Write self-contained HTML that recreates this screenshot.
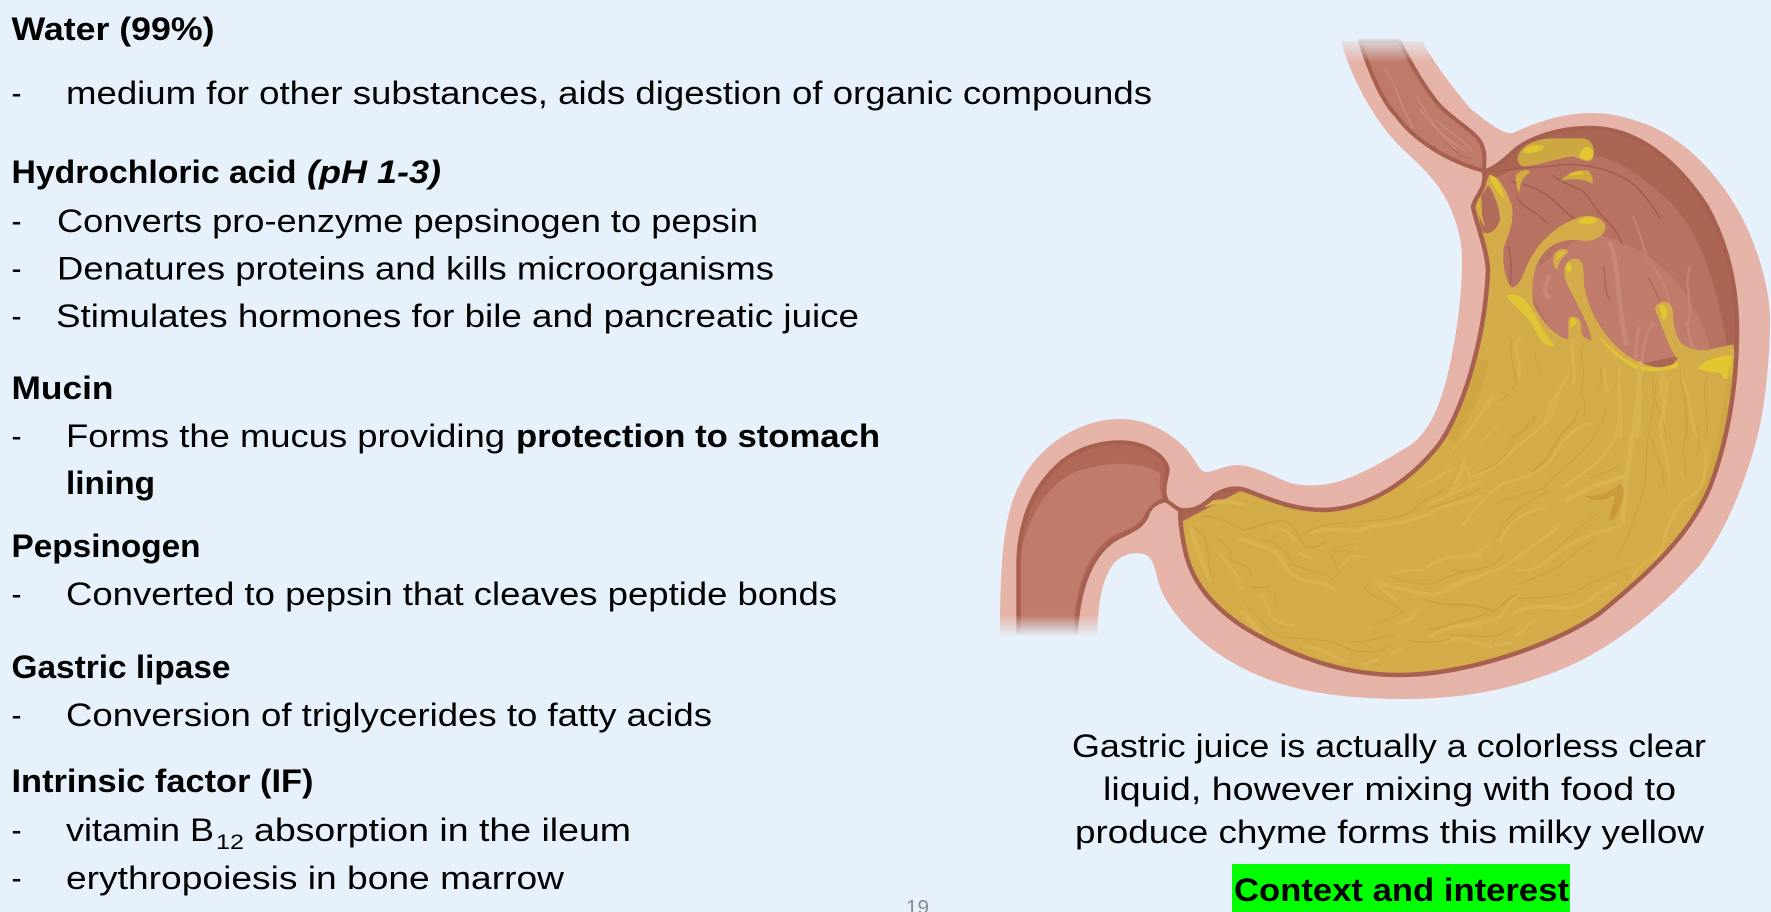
<!DOCTYPE html>
<html lang="en">
<head>
<meta charset="utf-8">
<title>Gastric juice components</title>
<style>
html,body{margin:0;padding:0;background:#e6f1fc;width:1771px;height:912px;overflow:hidden}
svg{display:block}
text{font-family:"Liberation Sans",Arial,sans-serif;font-size:32px;fill:#000}
.b{font-weight:700}
.i{font-weight:700;font-style:italic}
.L{fill:none;stroke:#d9b34f;stroke-width:9;stroke-linecap:round;stroke-linejoin:round}
.D{fill:none;stroke:#cba03f;stroke-width:3.500;stroke-linecap:round;stroke-linejoin:round}
.R{fill:none;stroke:#a25d4c;stroke-width:4.500;stroke-linecap:round;stroke-linejoin:round}
</style>
</head>
<body>
<svg width="1771" height="912" viewBox="0 0 1771 912" xmlns="http://www.w3.org/2000/svg">
<defs>
<linearGradient id="fadeTop" x1="0" y1="0" x2="0" y2="1"><stop offset="0" stop-color="#e6f1fc" stop-opacity=".95"/><stop offset="1" stop-color="#e6f1fc" stop-opacity="0"/></linearGradient>
<linearGradient id="fadeBot" x1="0" y1="0" x2="0" y2="1"><stop offset="0" stop-color="#e6f1fc" stop-opacity="0"/><stop offset=".72" stop-color="#e6f1fc"/><stop offset="1" stop-color="#e6f1fc"/></linearGradient>
<clipPath id="ch"><path d="M1484 172C1490 170 1500 165 1513 152C1530 137 1560 128 1590 128C1640 128 1680 165 1707 207C1725 240 1737 280 1737 330C1737 385 1728 440 1710 487C1690 535 1650 572 1600 613C1560 642 1470 675 1400 675C1340 675 1290 655 1245 628C1210 605 1190 580 1184 545C1181 530 1180 520 1180 510C1195 512 1205 505 1215 495C1225 489 1235 487 1245 490C1265 497 1290 510 1325 510C1370 508 1408 482 1437 447C1462 415 1485 340 1488 270C1487 250 1477 225 1473 207C1475 195 1487 190 1484 172Z"/></clipPath>
</defs>
<rect width="1771" height="912" fill="#e6f1fc"/>

<!-- outer wall -->
<path fill="#e5b3a8" d="M1341 41C1350 75 1375 125 1407 153C1425 170 1440 185 1449 205C1458 225 1462 240 1462 262C1462 300 1455 345 1447 377C1440 405 1430 430 1412 444C1385 461 1360 475 1340 481C1320 487 1300 487 1285 481C1265 472 1250 465 1237 465C1225 465 1215 472 1206 472C1198 472 1195 455 1180 443C1165 430 1145 419 1120 419C1080 419 1040 445 1022 480C1005 510 1000 550 1000 637L1097 637C1098 610 1100 580 1115 562C1125 552 1143 550 1150 558C1158 570 1155 580 1165 598C1190 640 1230 665 1270 680C1310 695 1360 699 1404 699C1460 699 1510 690 1560 670C1610 650 1660 610 1700 565C1730 525 1750 470 1760 425C1767 390 1770 350 1770 320C1770 285 1755 240 1738 210C1715 170 1680 135 1640 122C1620 115 1605 113 1590 113C1560 113 1530 125 1513 133C1505 135 1490 125 1470 108C1455 90 1435 65 1422 41Z"/>

<!-- esophagus -->
<g transform="translate(1340 36) scale(.33333)">
<path fill="#bf7a69" stroke="#a7604f" stroke-width="12" stroke-linejoin="round" d="M60 15C80 80 120 190 170 240C220 310 320 375 433 405C430 375 440 365 425 325C410 290 350 260 300 210C260 165 210 80 178 15Z"/>
<g fill="none" stroke="#cc8d7c" stroke-width="4" stroke-linecap="round">
<path d="M135 100C170 150 190 230 220 275"/><path d="M230 180C260 240 300 290 345 340"/><path d="M240 220C290 290 340 320 375 345"/><path d="M290 255C330 290 370 310 395 345"/>
</g>
<g fill="none" stroke="#ad6755" stroke-width="3" stroke-linecap="round"><path d="M280 330C295 335 295 355 310 358"/><path d="M320 320C350 350 370 370 395 365"/></g>
</g>

<!-- duodenal side -->
<g transform="translate(990 410) scale(.33333)">
<path fill="#b06957" stroke="#a7604f" stroke-width="12" stroke-linejoin="round" d="M85 680L85 450C90 330 130 230 210 160C270 110 340 95 400 97C470 100 530 140 533 180C530 210 515 240 530 270C505 275 480 285 470 320C455 350 430 360 400 375C330 405 265 490 258 680Z"/>
<path fill="#c07b6a" d="M93 680L93 430C110 330 170 220 260 185C340 155 450 150 512 192C508 210 508 240 518 266C490 272 470 300 460 320C445 345 420 355 395 365C320 395 255 480 250 680Z"/>
<path fill="none" stroke="#a7604f" stroke-width="12" stroke-linecap="round" d="M525 270C545 280 555 295 572 300"/>
</g>

<!-- chamber -->
<path fill="#ab6553" d="M1484 172C1490 170 1500 165 1513 152C1530 137 1560 128 1590 128C1640 128 1680 165 1707 207C1725 240 1737 280 1737 330C1737 385 1728 440 1710 487C1690 535 1650 572 1600 613C1560 642 1470 675 1400 675C1340 675 1290 655 1245 628C1210 605 1190 580 1184 545C1181 530 1180 520 1180 510C1195 512 1205 505 1215 495C1225 489 1235 487 1245 490C1265 497 1290 510 1325 510C1370 508 1408 482 1437 447C1462 415 1485 340 1488 270C1487 250 1477 225 1473 207C1475 195 1487 190 1484 172Z"/>
<g clip-path="url(#ch)">
<g transform="translate(1440 110) scale(.33333)">
<path fill="#b87261" d="M140 220C200 170 400 130 480 140C560 160 650 230 720 310C790 400 840 560 862 720L150 800Z"/>
<path fill="#c07b6a" d="M440 370C560 385 650 440 720 530C770 600 800 660 810 720L400 800L250 500Z"/>
<!-- rugae -->
<path class="R" d="M175 185C230 170 300 175 360 165C420 160 500 170 570 215C600 235 640 290 660 325"/>
<path class="R" d="M215 215C260 225 300 235 340 270C370 300 390 320 405 325"/>
<path class="R" d="M335 195C380 230 430 230 450 270C480 320 530 350 545 400"/>
<path class="R" d="M230 260C250 300 290 300 320 340"/>
<path class="R" d="M205 410C215 450 215 480 210 525"/>
<path class="R" d="M490 470C500 510 490 540 510 570" stroke-opacity=".7"/>
<path class="R" d="M625 505C640 530 650 550 660 570" stroke-opacity=".6"/>
<g fill="none" stroke="#c98777" stroke-linecap="round">
<path stroke-width="14" d="M510 400C540 470 530 580 560 700"/>
<path stroke-width="14" d="M328 500C312 530 312 555 328 560"/>
<path stroke-width="8" d="M600 650C585 690 590 720 585 750"/>
<path stroke-width="8" d="M640 640C610 680 610 720 605 760"/>
<path stroke-width="8" d="M740 640C750 680 750 710 770 720"/>
<path stroke-width="5" d="M750 470C730 520 760 570 745 640"/>
<path stroke-width="5" d="M580 320C600 370 610 400 620 440"/>
<path stroke-width="5" d="M640 470C670 510 690 560 690 600"/>
</g>
<!-- chyme -->
<path fill="#d3ab49" d="M148 195C175 195 200 240 215 285C225 330 205 375 192 410C185 450 195 510 215 532C240 530 250 490 262 465C290 400 350 345 410 325C440 310 490 320 497 348C495 380 460 395 430 393C400 385 350 390 320 420C285 455 270 510 280 580C295 620 340 680 385 688L385 630C390 610 420 620 425 645C420 665 425 685 455 692C450 650 415 590 385 530C365 490 370 450 405 445C435 448 430 480 432 520C440 590 480 660 530 710C570 750 630 775 675 772C690 770 705 760 712 745C685 715 665 640 645 600C645 575 690 560 698 600C700 640 705 680 725 700C750 720 780 725 810 718L880 703L920 1000L920 1400L-900 2000L-900 1300L60 800L90 400L105 290L125 250Z"/>
<path fill="#b16b59" d="M145 225C165 255 180 300 180 330C170 360 150 375 130 368C118 345 112 300 125 255Z"/>
<path fill="#d6b13e" d="M113 262C118 252 127 255 125 300C125 320 132 335 135 350C120 335 110 290 113 262Z"/>
<path fill="#e2c62f" d="M148 195C165 195 180 215 195 268C180 255 160 235 148 195Z"/>
<!-- blobs -->
<path fill="#cda741" d="M232 150C235 110 280 85 340 85L430 85C460 90 470 125 455 150C440 160 420 145 400 140C340 145 260 180 240 165Z"/>
<path fill="#e2c62f" d="M252 120C265 105 300 102 313 110C305 125 270 132 252 130ZM418 140C425 105 450 105 460 125C462 150 440 160 418 140Z"/>
<path fill="#cfa93e" d="M362 213C375 195 410 175 445 182C458 195 460 215 458 222C430 205 390 205 362 213Z"/>
<path fill="#e0c233" d="M385 197C395 185 420 180 432 188C420 195 400 197 385 197Z"/>
<path fill="#d3ab3f" d="M228 195C240 180 265 175 272 188C250 195 240 220 238 250C230 235 225 210 228 195Z"/>
<path fill="#e2c62f" d="M412 335C425 320 460 315 472 328C470 342 430 350 412 335Z"/>
<path fill="#d3ab49" d="M342 432C355 415 380 410 384 428C370 440 358 450 352 478C340 475 336 450 342 432Z"/>
<path fill="#e0c233" d="M352 435C360 425 372 422 374 428C365 435 355 445 350 455Z"/>
<path fill="#e2c62f" d="M378 468C382 455 394 455 395 472C392 485 385 492 380 485Z"/>
<path fill="#e2c62f" d="M392 628C400 620 412 630 410 638C405 645 395 652 390 650Z"/>
<path fill="#e2c62f" d="M658 590C665 578 680 585 682 608C680 625 672 638 668 630Z"/>
<path fill="#e0c535" d="M198 558C220 545 255 560 270 590C290 620 310 670 345 708C320 715 300 690 285 660C265 620 225 590 198 558Z"/>
<path fill="#e0c535" d="M475 678C510 710 560 760 610 770C650 778 690 770 715 755L715 770C680 785 620 790 585 775C540 750 500 715 475 678Z"/>
<path fill="#e2c62f" d="M772 775C790 755 830 735 875 737L878 790C870 810 850 815 848 795C835 780 800 790 772 775Z"/>
<!-- upper folds -->
<path class="L" d="M240 680C210 720 250 760 235 800"/><path class="L" d="M540 780C530 850 550 900 540 980"/><path class="L" style="stroke-width:14" d="M600 760C590 840 610 900 590 980"/><path class="L" d="M670 780C650 850 690 900 660 980"/><path class="L" d="M380 800C340 860 360 890 310 950"/><path class="L" d="M160 860C120 920 90 960 70 990"/><path class="L" d="M720 790C750 850 750 930 770 980"/><path class="L" d="M490 780C500 810 495 830 505 845"/><path class="L" d="M400 690C390 740 410 780 400 820"/>
<path class="D" d="M215 690C205 730 220 770 230 810C220 840 200 860 180 875"/><path class="D" d="M290 720C270 760 310 770 300 790"/><path class="D" d="M430 700C410 750 450 790 420 850C440 880 440 900 430 915"/><path class="D" d="M480 770C490 800 480 830 470 850"/><path class="D" d="M620 780C600 850 580 900 570 980"/><path class="D" d="M640 800C630 860 660 890 680 980"/><path class="D" d="M720 780C720 840 750 880 740 980"/><path class="D" d="M800 800C780 860 810 900 800 980"/><path class="D" d="M280 920C260 950 240 970 210 985"/>
</g>
<!-- right lower folds -->
<g transform="translate(1450 360) scale(.33333)">
<path fill="none" stroke="#c8a23f" stroke-width="30" stroke-opacity=".45" d="M850 20C835 180 800 340 745 440"/>
<path fill="none" stroke="#c8a23f" stroke-width="34" stroke-opacity=".45" d="M100 0C80 90 45 170 0 240"/>
<path class="L" d="M350 60C320 100 300 130 290 170C270 220 200 250 170 290C140 320 100 340 70 350"/>
<path class="L" d="M420 190C360 210 330 250 310 290C280 330 240 350 160 370C110 400 80 440 40 495"/>
<path class="L" d="M510 80C510 130 510 180 500 220C470 300 400 340 340 380"/>
<path class="L" style="stroke-width:16" d="M570 70C560 150 550 210 540 280C530 340 520 400 520 480"/>
<path class="L" d="M650 60C650 110 640 150 630 190C630 240 660 300 660 390"/>
<path class="L" d="M770 270C760 320 780 380 720 410C680 430 660 480 650 510C645 540 640 560 620 590C590 600 560 620 550 650"/>
<path class="L" style="stroke-width:14" d="M350 420C400 390 450 370 520 350"/>
<path class="L" d="M150 545C170 490 210 460 290 440"/>
<path class="L" d="M60 355C50 300 30 320 30 350C30 390 10 380 0 400"/>
<path class="L" d="M120 550C80 590 30 600 0 590"/>
<path class="L" d="M0 680C60 640 130 650 190 600C240 560 300 530 325 495"/>
<path class="L" d="M200 630C260 640 290 600 350 560C400 530 430 520 510 500"/>
<path class="L" style="stroke-width:12" d="M190 760C240 730 290 740 350 745C410 740 450 690 495 670"/>
<path class="L" d="M0 800C50 790 120 790 150 770C170 740 180 720 195 715"/>
<path class="L" d="M0 835C40 830 70 850 125 860"/>
<path class="L" d="M200 825C220 810 240 790 255 780"/>
<path class="L" style="stroke-width:12" d="M140 855L180 850"/>
<path class="L" style="stroke-width:5" d="M90 250C110 230 130 200 145 195"/>
<path class="L" style="stroke-width:5" d="M0 280C40 230 100 160 125 100"/>
<path class="D" d="M75 340C130 320 170 300 190 240C210 210 260 200 255 160"/>
<path class="D" style="stroke-width:6" d="M245 335C290 310 310 260 330 230C350 200 380 190 380 155"/>
<path class="D" d="M140 430C180 410 240 400 280 385C330 320 430 280 470 150"/>
<path class="D" d="M420 355C460 340 490 330 510 310"/>
<path class="D" d="M600 230C610 270 640 300 640 370"/>
<path class="D" d="M620 60C610 130 600 190 590 260C590 350 590 410 505 585"/>
<path class="D" d="M710 110C700 170 720 200 700 260C700 300 710 320 705 345"/>
<path class="D" d="M740 200C750 240 750 260 740 290"/>
<path class="D" d="M145 530C150 480 210 440 290 395"/>
<path class="D" d="M0 630C50 635 110 635 160 590"/>
<path class="D" d="M200 675C250 650 310 640 350 600C380 570 410 560 435 530"/>
<path class="D" d="M300 580C340 550 380 510 440 460"/>
<path class="D" style="stroke-width:6" d="M0 735C50 730 100 740 130 755C160 730 170 720 195 705"/>
<path class="D" d="M0 790C40 785 80 770 110 760"/>
<path class="D" d="M205 715C270 710 350 720 420 670C460 650 510 640 540 620"/>
<path class="D" d="M0 825C50 825 110 835 150 825C170 810 185 805 195 800"/>
<path fill="#c9993b" d="M405 408C440 410 480 400 510 370C525 380 525 410 510 440C500 470 490 485 478 480C480 450 500 420 490 405C460 425 430 425 405 408Z"/>
</g>
<!-- lower-left folds -->
<g transform="translate(1180 440) scale(.33333)">
<path class="L" style="stroke-width:14" d="M30 260C50 310 60 360 90 420"/>
<path class="L" d="M120 345C150 370 170 400 185 445"/>
<path class="L" style="stroke-width:12" d="M175 295C220 310 260 320 290 340C310 380 340 420 390 425C420 425 440 430 460 450"/>
<path class="L" d="M270 265C300 260 340 280 340 300"/>
<path class="L" style="stroke-width:12" d="M80 195C110 180 150 180 190 195"/>
<path class="L" style="stroke-width:12" d="M395 280C450 250 510 290 570 260C640 250 700 250 790 200C830 190 860 180 900 170"/>
<path class="L" d="M745 195C790 170 850 150 900 125"/>
<path class="L" d="M490 375C500 350 530 345 550 350"/>
<path class="L" d="M360 340L395 355"/>
<path class="L" style="stroke-width:12" d="M590 430C650 440 700 460 760 465C820 450 850 420 900 410"/>
<path class="L" d="M745 380C780 350 830 345 900 350"/>
<path class="L" d="M640 400C670 390 700 390 725 390"/>
<path class="L" d="M590 430C610 450 630 470 650 480"/>
<path class="L" d="M655 550C680 540 700 540 710 510"/>
<path class="L" d="M240 465C270 490 260 530 290 545C310 550 320 550 340 558"/>
<path class="L" style="stroke-width:14" d="M185 515C210 540 230 560 245 580"/>
<path class="L" style="stroke-width:12" d="M370 620C420 620 460 650 495 665"/>
<path class="L" style="stroke-width:10" d="M550 675L590 660"/>
<path class="L" style="stroke-width:10" d="M635 640L660 630"/>
<path class="L" d="M750 590C790 560 850 560 900 560"/>
<path class="L" d="M790 610C830 595 860 600 900 610"/>
<path class="L" d="M850 60C850 90 830 120 820 130"/>
<path class="L" d="M710 145C750 130 780 100 820 90"/>
<path class="D" style="stroke-width:5" d="M65 230C110 225 150 250 190 270C250 260 290 230 330 250C350 270 360 300 375 320C400 325 420 320 435 305"/>
<path class="D" d="M360 290C400 260 460 245 510 250"/>
<path class="D" d="M530 245C600 240 680 240 720 190C750 170 810 150 825 115"/>
<path class="D" d="M745 205C800 190 860 170 900 145"/>
<path class="D" d="M30 258C70 270 85 310 85 350C85 380 95 410 100 420"/>
<path class="D" d="M110 295C135 310 160 330 150 360C180 370 210 380 215 400"/>
<path class="D" d="M245 300C290 300 320 340 340 375C380 390 440 400 460 420"/>
<path class="D" d="M215 440C240 445 260 440 270 440"/>
<path class="D" d="M285 460C290 480 290 490 285 500"/>
<path class="D" d="M450 345C470 360 460 375 480 395"/>
<path class="D" d="M455 330L525 310M460 335L520 335"/>
<path class="D" d="M550 435C570 480 640 480 670 515C640 535 610 545 580 555"/>
<path class="D" d="M200 500C240 530 260 570 300 590C380 600 440 590 500 625C530 640 600 640 630 615"/>
<path class="D" d="M515 605C560 610 600 590 640 585"/>
<path class="D" d="M680 600C720 610 780 610 810 595"/>
<path class="D" d="M625 410C680 420 720 440 760 430C800 410 850 390 900 390"/>
<path class="D" d="M725 475C780 500 840 490 900 500"/>
<path class="D" d="M740 570C800 560 860 540 900 530"/>
</g>
</g>
<path fill="none" stroke="#a7604f" stroke-width="4.500" stroke-linejoin="round" d="M1484 172C1490 170 1500 165 1513 152C1530 137 1560 128 1590 128C1640 128 1680 165 1707 207C1725 240 1737 280 1737 330C1737 385 1728 440 1710 487C1690 535 1650 572 1600 613C1560 642 1470 675 1400 675C1340 675 1290 655 1245 628C1210 605 1190 580 1184 545C1181 530 1180 520 1180 510C1195 512 1205 505 1215 495C1225 489 1235 487 1245 490C1265 497 1290 510 1325 510C1370 508 1408 482 1437 447C1462 415 1485 340 1488 270C1487 250 1477 225 1473 207C1475 195 1487 190 1484 172Z"/>

<!-- fades -->
<rect x="1330" y="36" width="100" height="26" fill="url(#fadeTop)"/>
<rect x="990" y="615" width="115" height="30" fill="url(#fadeBot)"/>

<!-- left text -->
<text class="b" x="11.5" y="40" textLength="203" lengthAdjust="spacingAndGlyphs">Water (99%)</text>
<text x="11.5" y="104" textLength="10" lengthAdjust="spacingAndGlyphs">-</text>
<text x="66" y="104" textLength="1086" lengthAdjust="spacingAndGlyphs">medium for other substances, aids digestion of organic compounds</text>

<text class="b" x="11.5" y="183" textLength="285" lengthAdjust="spacingAndGlyphs">Hydrochloric acid</text>
<text class="i" x="307" y="183" textLength="134" lengthAdjust="spacingAndGlyphs">(pH 1-3)</text>
<text x="11.5" y="232" textLength="10" lengthAdjust="spacingAndGlyphs">-</text>
<text x="57" y="232" textLength="701" lengthAdjust="spacingAndGlyphs">Converts pro-enzyme pepsinogen to pepsin</text>
<text x="11.5" y="279.500" textLength="10" lengthAdjust="spacingAndGlyphs">-</text>
<text x="57" y="279.500" textLength="717" lengthAdjust="spacingAndGlyphs">Denatures proteins and kills microorganisms</text>
<text x="11.5" y="327" textLength="10" lengthAdjust="spacingAndGlyphs">-</text>
<text x="56" y="327" textLength="803" lengthAdjust="spacingAndGlyphs">Stimulates hormones for bile and pancreatic juice</text>

<text class="b" x="11.5" y="399" textLength="102" lengthAdjust="spacingAndGlyphs">Mucin</text>
<text x="11.5" y="447" textLength="10" lengthAdjust="spacingAndGlyphs">-</text>
<text x="66" y="447" textLength="439" lengthAdjust="spacingAndGlyphs">Forms the mucus providing</text>
<text class="b" x="516" y="447" textLength="364" lengthAdjust="spacingAndGlyphs">protection to stomach</text>
<text class="b" x="66" y="494" textLength="89" lengthAdjust="spacingAndGlyphs">lining</text>

<text class="b" x="11.5" y="557" textLength="189" lengthAdjust="spacingAndGlyphs">Pepsinogen</text>
<text x="11.5" y="605" textLength="10" lengthAdjust="spacingAndGlyphs">-</text>
<text x="66" y="605" textLength="771" lengthAdjust="spacingAndGlyphs">Converted to pepsin that cleaves peptide bonds</text>

<text class="b" x="11.5" y="678" textLength="219" lengthAdjust="spacingAndGlyphs">Gastric lipase</text>
<text x="11.5" y="726" textLength="10" lengthAdjust="spacingAndGlyphs">-</text>
<text x="66" y="726" textLength="646" lengthAdjust="spacingAndGlyphs">Conversion of triglycerides to fatty acids</text>

<text class="b" x="11.5" y="792" textLength="302" lengthAdjust="spacingAndGlyphs">Intrinsic factor (IF)</text>
<text x="11.5" y="841" textLength="10" lengthAdjust="spacingAndGlyphs">-</text>
<text x="66" y="841" textLength="148" lengthAdjust="spacingAndGlyphs">vitamin B</text>
<text x="216" y="849" style="font-size:21px" textLength="28" lengthAdjust="spacingAndGlyphs">12</text>
<text x="254" y="841" textLength="377" lengthAdjust="spacingAndGlyphs">absorption in the ileum</text>
<text x="11.5" y="889" textLength="10" lengthAdjust="spacingAndGlyphs">-</text>
<text x="66" y="889" textLength="498" lengthAdjust="spacingAndGlyphs">erythropoiesis in bone marrow</text>

<text x="906" y="914" style="font-size:20px;fill:#8a8a8a" textLength="23" lengthAdjust="spacingAndGlyphs">19</text>

<!-- right text -->
<text x="1072" y="757" textLength="634" lengthAdjust="spacingAndGlyphs">Gastric juice is actually a colorless clear</text>
<text x="1103" y="800" textLength="573" lengthAdjust="spacingAndGlyphs">liquid, however mixing with food to</text>
<text x="1075" y="843" textLength="629" lengthAdjust="spacingAndGlyphs">produce chyme forms this milky yellow</text>
<rect x="1232" y="864" width="338" height="48" fill="#00ff00"/>
<text class="b" x="1234" y="901" textLength="335" lengthAdjust="spacingAndGlyphs">Context and interest</text>
</svg>
</body>
</html>
